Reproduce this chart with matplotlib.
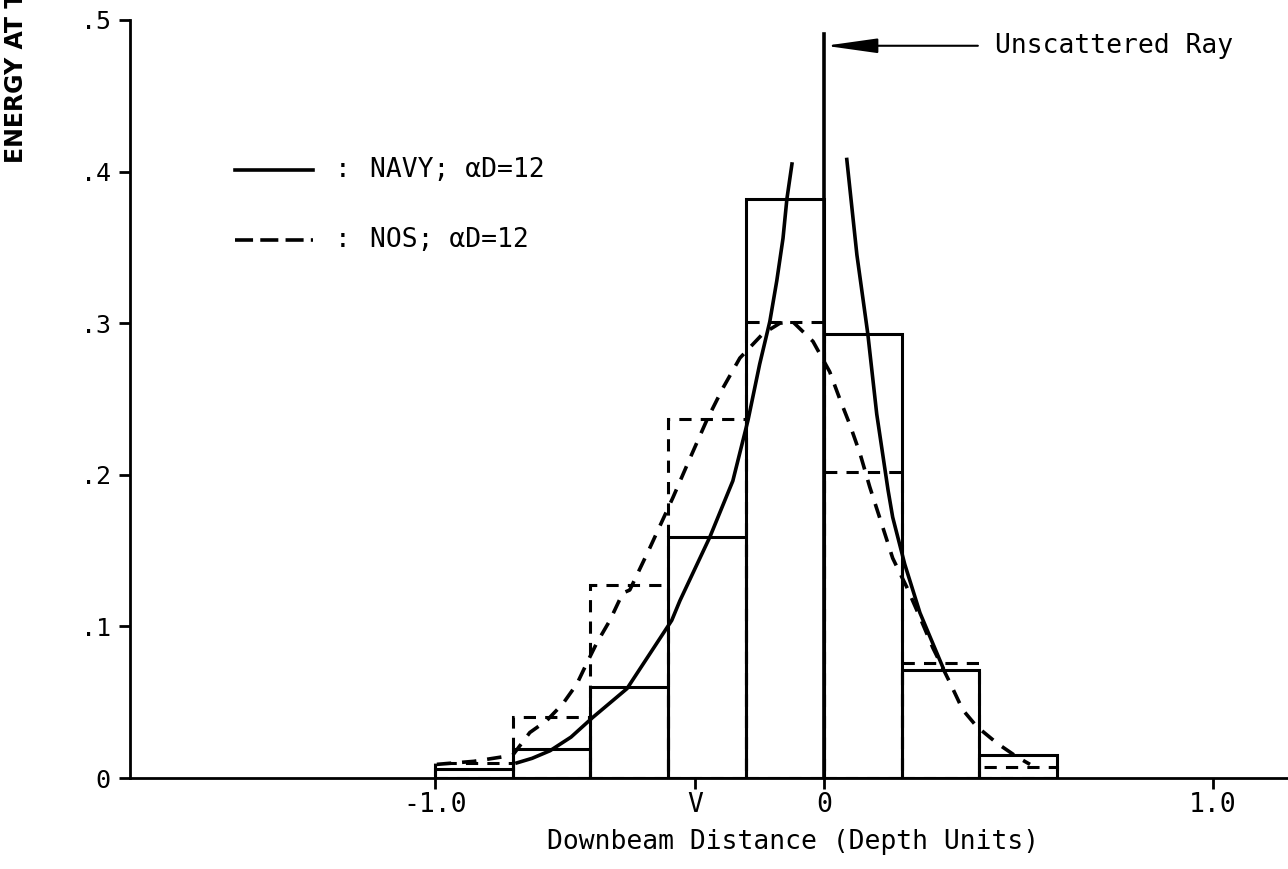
import numpy as np
import matplotlib
matplotlib.use("Agg")
import matplotlib.pyplot as plt

# Histogram bins (depth units) and bar heights
bin_edges = [-1.0, -0.8, -0.6, -0.4, -0.2, 0.0, 0.2, 0.4, 0.6]
navy_bars = [0.006, 0.019, 0.060, 0.159, 0.382, 0.293, 0.071, 0.015]
nos_bars = [0.010, 0.040, 0.127, 0.237, 0.301, 0.202, 0.076, 0.007]

# NAVY model curve (two branches either side of the unscattered ray)
navy_left_x = [-0.789, -0.750, -0.704, -0.650, -0.594, -0.506, -0.391, -0.370,
               -0.293, -0.234, -0.195, -0.165, -0.139, -0.121, -0.105, -0.095, -0.082]
navy_left_y = [0.010, 0.013, 0.018, 0.027, 0.040, 0.059, 0.104, 0.117,
               0.159, 0.196, 0.236, 0.273, 0.301, 0.328, 0.356, 0.382, 0.405]
navy_right_x = [0.059, 0.085, 0.113, 0.136, 0.165, 0.177, 0.208, 0.247, 0.306]
navy_right_y = [0.408, 0.345, 0.293, 0.240, 0.190, 0.172, 0.141, 0.109, 0.073]

# NOS model curve
nos_x = [-0.995, -0.90, -0.80, -0.756, -0.712, -0.671, -0.635, -0.609, -0.584,
         -0.550, -0.517, -0.499, -0.447, -0.388, -0.344, -0.301, -0.260, -0.216,
         -0.157, -0.113, -0.080, -0.028, 0.015, 0.041, 0.067, 0.093, 0.118,
         0.152, 0.177, 0.213, 0.247, 0.280, 0.324, 0.357, 0.393, 0.445, 0.496, 0.530]
nos_y = [0.009, 0.011, 0.015, 0.030, 0.038, 0.049, 0.062, 0.076, 0.089,
         0.104, 0.122, 0.124, 0.152, 0.185, 0.211, 0.236, 0.257, 0.277,
         0.293, 0.300, 0.301, 0.288, 0.268, 0.250, 0.233, 0.214, 0.192,
         0.165, 0.145, 0.126, 0.106, 0.086, 0.063, 0.045, 0.034, 0.023, 0.014, 0.009]

ray_top = 0.491
ray_arrow_y = 0.483

x_ticks = [-1.0, -0.33, 0.0, 1.0]
x_tick_labels = ["-1.0", "V", "0", "1.0"]
y_ticks = [0, 0.1, 0.2, 0.3, 0.4, 0.5]
y_tick_labels = ["0", ".1", ".2", ".3", ".4", ".5"]

mono = "DejaVu Sans Mono"
lw = 2.2

fig = plt.figure(figsize=(12.88, 8.69), dpi=100)
ax = fig.add_axes([0.1009, 0.1047, 0.899, 0.8723])

widths = np.diff(bin_edges)
ax.bar(bin_edges[:-1], nos_bars, width=widths, align="edge", fill=False,
       edgecolor="black", linewidth=lw, linestyle=(0, (4, 3)))
ax.bar(bin_edges[:-1], navy_bars, width=widths, align="edge", fill=False,
       edgecolor="black", linewidth=lw)

ax.plot(navy_left_x, navy_left_y, color="black", lw=lw + 0.4)
ax.plot(navy_right_x, navy_right_y, color="black", lw=lw + 0.4)
ax.plot(nos_x, nos_y, color="black", lw=lw + 0.4, linestyle=(0, (4, 3)))

# unscattered ray
ax.plot([0, 0], [0, ray_top], color="black", lw=2.6)
ax.annotate("", xy=(0.004, ray_arrow_y), xytext=(0.396, ray_arrow_y),
            arrowprops=dict(arrowstyle="-|>,head_length=3.2,head_width=0.45",
                            mutation_scale=10, color="black", lw=1.5,
                            shrinkA=0, shrinkB=0))
ax.text(0.44, ray_arrow_y, "Unscattered Ray", fontsize=19, family=mono,
        va="center", ha="left")

# hand-drawn legend
ax.plot([0.0907, 0.158], [0.802, 0.802], transform=ax.transAxes,
        color="black", lw=lw + 0.4)
ax.plot([0.0907, 0.158], [0.71, 0.71], transform=ax.transAxes,
        color="black", lw=lw + 0.4, linestyle=(0, (5, 2)))
ax.text(0.177, 0.802, ":", transform=ax.transAxes, fontsize=19, family=mono,
        va="center", ha="left")
ax.text(0.177, 0.71, ":", transform=ax.transAxes, fontsize=19, family=mono,
        va="center", ha="left")
ax.text(0.2073, 0.802, "NAVY; αD=12", transform=ax.transAxes, fontsize=19,
        family=mono, va="center", ha="left")
ax.text(0.2073, 0.71, "NOS; αD=12", transform=ax.transAxes, fontsize=19,
        family=mono, va="center", ha="left")

ax.set_xlim(-1.784, 1.193)
ax.set_ylim(0, 0.5)
ax.spines["top"].set_visible(False)
ax.spines["right"].set_visible(False)
ax.spines["left"].set_linewidth(2)
ax.spines["bottom"].set_linewidth(2)
ax.spines["left"].set_bounds(0, 0.5)

ax.set_xticks(x_ticks)
ax.set_xticklabels(x_tick_labels, family=mono, fontsize=19)
ax.set_yticks(y_ticks)
ax.set_yticklabels(y_tick_labels, family=mono, fontsize=18)
ax.tick_params(axis="x", direction="out", length=8, width=2, pad=2)
ax.tick_params(axis="y", direction="out", length=8, width=2, pad=6)

fig.text(793 / 1288, 1 - 842 / 869, "Downbeam Distance (Depth Units)",
         family=mono, fontsize=19, ha="center", va="center")
# y label runs off the top edge in the source scan
fig.text(16 / 1288, 1 - 163 / 869, "ENERGY AT THE SURFACE", rotation=90,
         family="DejaVu Sans", fontweight="bold", fontsize=17,
         ha="center", va="bottom")

fig.savefig("out.png", dpi=100)
